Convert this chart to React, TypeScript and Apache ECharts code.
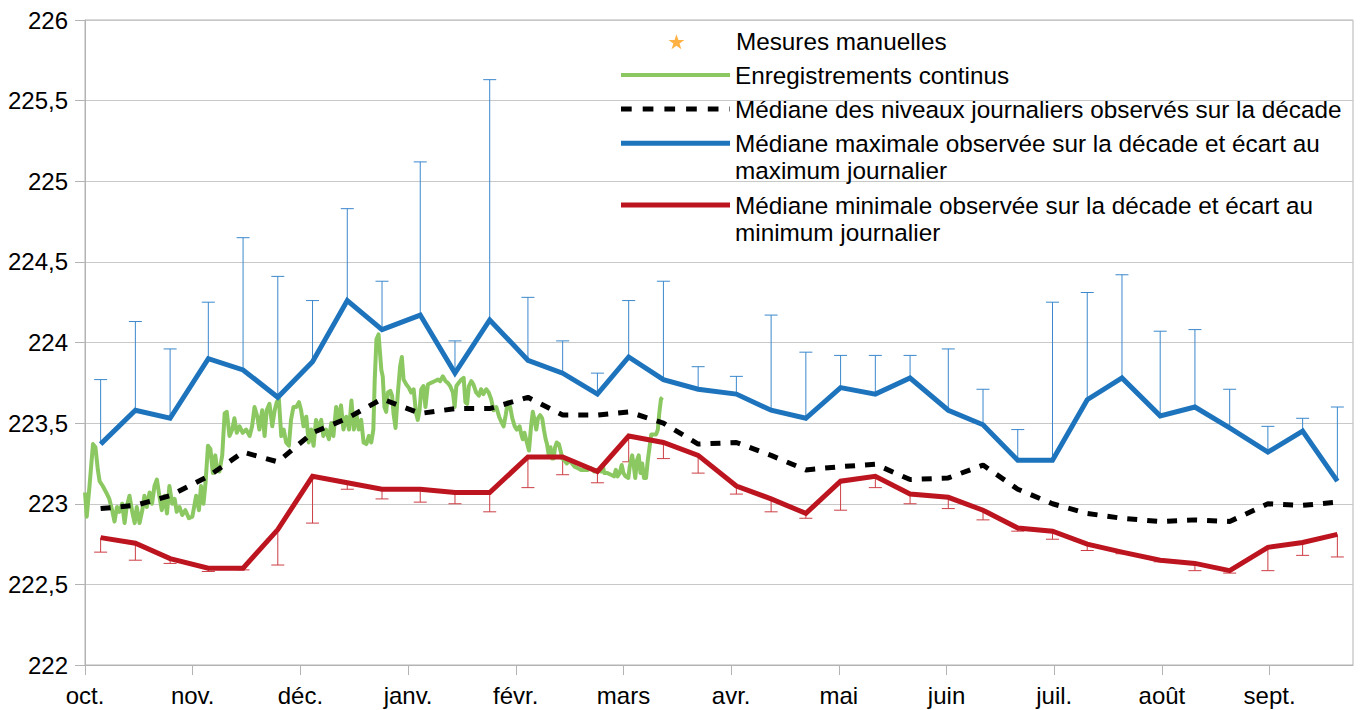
import React, { useEffect, useRef } from "react";
import * as echarts from "echarts";

// ---- axis / calendar (Oct 2023 – Sep 2024, leap February) ----
const monthLabels = ["oct.", "nov.", "déc.", "janv.", "févr.", "mars", "avr.", "mai", "juin", "juil.", "août", "sept."];
const monthTickDays = [0, 31, 62, 93, 124, 155, 186, 217, 248, 279, 310, 341];
const monthLengths = [31, 30, 31, 31, 29, 31, 30, 31, 30, 31, 31, 30];
const decadeOffsets = [4.5, 14.5, 24.5];
const yTicks = { min: 222, max: 226, step: 0.5 };

// ---- series values, one per decade (36) ----
const medianDaily = [
  222.97, 222.99, 223.05, 223.17, 223.32, 223.26, 223.44, 223.53, 223.65,
  223.56, 223.59, 223.59, 223.66, 223.55, 223.55, 223.57, 223.50, 223.37,
  223.38, 223.30, 223.21, 223.23, 223.245, 223.15, 223.16, 223.24, 223.09,
  223.00, 222.94, 222.91, 222.89, 222.90, 222.89, 223.00, 222.99, 223.01,
];
const maxMedian = [
  223.37, 223.58, 223.53, 223.90, 223.83, 223.66, 223.88, 224.26, 224.08,
  224.17, 223.81, 224.14, 223.89, 223.81, 223.68, 223.91, 223.77, 223.71,
  223.68, 223.58, 223.53, 223.72, 223.68, 223.78, 223.58, 223.49, 223.27,
  223.27, 223.645, 223.78, 223.545, 223.60, 223.47, 223.32, 223.45, 223.14,
];
const maxDaily = [
  223.77, 224.13, 223.96, 224.25, 224.65, 224.41, 224.26, 224.83, 224.38,
  225.12, 224.01, 225.63, 224.28, 224.01, 223.81, 224.26, 224.38, 223.85,
  223.79, 224.17, 223.94, 223.92, 223.92, 223.92, 223.96, 223.71, 223.46,
  224.25, 224.31, 224.42, 224.07, 224.08, 223.71, 223.48, 223.53, 223.60,
];
const minMedian = [
  222.79, 222.755, 222.66, 222.60, 222.60, 222.84, 223.17, 223.13, 223.09,
  223.09, 223.07, 223.07, 223.29, 223.29, 223.20, 223.42, 223.38, 223.30,
  223.11, 223.03, 222.94, 223.14, 223.17, 223.06, 223.04, 222.96, 222.85,
  222.83, 222.75, 222.70, 222.65, 222.63, 222.585, 222.73, 222.76, 222.81,
];
const minDaily = [
  222.70, 222.65, 222.63, 222.58, 222.59, 222.62, 222.88, 223.09, 223.03,
  223.01, 223.00, 222.95, 223.10, 223.18, 223.13, 223.26, 223.28, 223.19,
  223.06, 222.95, 222.91, 222.96, 223.10, 223.00, 222.97, 222.90, 222.83,
  222.78, 222.71, 222.69, 222.64, 222.585, 222.57, 222.585, 222.68, 222.67,
];

// ---- continuous record (day since 1 Oct, level) ----
const greenDays = [
  0, 0.5, 1.3, 2.3, 3.0, 3.7, 4.2, 5.1, 6.1, 7.0, 7.8, 8.5, 9.2, 9.9, 10.7, 11.4, 12.0, 12.8, 13.6, 14.3,
  14.9, 15.7, 16.5, 17.1, 17.8, 18.6, 19.3, 20.0, 20.7, 21.4, 22.1, 22.9, 23.6, 24.3, 25.1, 25.8, 26.4, 27.2, 28.0, 28.9,
  29.9, 30.9, 32.0, 32.8, 33.4, 34.1, 34.7, 35.4, 36.1, 36.8, 37.5, 38.0, 38.7, 39.5, 40.2, 40.8, 41.6, 42.4, 43.0, 43.7,
  44.5, 45.4, 46.4, 47.4, 48.1, 48.8, 49.6, 50.2, 51.0, 51.7, 52.3, 53.1, 53.9, 54.6, 55.2, 55.8, 56.5, 57.2, 57.9, 58.7,
  59.3, 60.0, 60.8, 61.6, 62.2, 62.9, 63.7, 64.4, 65.1, 65.8, 66.5, 67.3, 68.0, 68.6, 69.4, 70.2, 70.9, 71.5, 72.3, 73.1,
  73.7, 74.4, 75.2, 76.0, 76.7, 77.4, 78.1, 78.8, 79.5, 80.2, 81.0, 81.7, 82.4, 83.0, 83.4, 83.9, 84.5, 85.3, 85.7, 86.2,
  86.7, 87.2, 87.9, 88.4, 88.8, 89.4, 90.0, 90.7, 91.2, 91.7, 92.5, 93.2, 93.9, 94.6, 95.3, 95.8, 96.3, 96.8, 97.4, 98.0,
  98.7, 99.6, 100.6, 101.6, 102.2, 103.0, 103.8, 104.4, 105.1, 105.9, 106.4, 106.9, 107.6, 108.3, 109.0, 109.5, 110.0, 110.5, 111.2, 111.8,
  112.6, 113.4, 114.0, 114.7, 115.5, 116.2, 116.9, 117.6, 118.4, 119.2, 119.8, 120.5, 121.1, 121.7, 122.4, 123.0, 123.7, 124.3, 125.1, 125.6,
  126.0, 126.5, 127.2, 127.8, 128.4, 128.9, 129.4, 129.9, 130.4, 131.0, 131.6, 132.1, 132.6, 133.0, 133.5, 134.0, 134.5, 134.9, 135.3, 135.8,
  136.4, 137.0, 137.4, 138.0, 138.7, 139.5, 140.2, 140.9, 141.9, 142.8, 143.8, 144.7, 145.7, 146.6, 147.6, 148.5, 149.0, 149.5, 150.4, 151.4,
  152.3, 152.8, 153.3, 153.9, 154.5, 155.0, 155.6, 156.4, 156.8, 157.5, 158.0, 158.4, 158.9, 159.4, 159.9, 160.4, 160.9, 161.5, 162.0, 162.5,
  163.0, 163.7, 164.4, 164.9, 165.3, 165.8, 166.2,
];
const greenLevels = [
  223.07, 222.92, 223.11, 223.37, 223.35, 223.21, 223.14, 223.11, 223.07, 223.03, 222.96, 222.89, 222.98, 222.95, 223.00, 222.88, 222.98, 223.05, 222.95, 222.88,
  222.98, 222.88, 222.96, 223.05, 222.98, 223.07, 223.00, 223.11, 223.15, 223.05, 222.96, 223.05, 222.94, 223.11, 223.00, 223.03, 222.95, 222.98, 222.93, 222.96,
  222.91, 222.92, 223.05, 222.96, 223.11, 223.00, 223.13, 223.36, 223.34, 223.19, 223.30, 223.22, 223.20, 223.30, 223.56, 223.57, 223.42, 223.46, 223.53, 223.44,
  223.48, 223.44, 223.46, 223.42, 223.48, 223.60, 223.54, 223.46, 223.58, 223.42, 223.58, 223.62, 223.48, 223.58, 223.63, 223.65, 223.42, 223.46, 223.38, 223.36,
  223.52, 223.60, 223.60, 223.63, 223.58, 223.48, 223.54, 223.38, 223.46, 223.36, 223.52, 223.46, 223.52, 223.42, 223.46, 223.40, 223.50, 223.42, 223.60, 223.52,
  223.61, 223.46, 223.54, 223.46, 223.64, 223.46, 223.56, 223.46, 223.52, 223.38, 223.37, 223.42, 223.38, 223.46, 223.77, 224.02, 224.05, 223.83, 223.79, 223.60,
  223.57, 223.69, 223.70, 223.67, 223.56, 223.47, 223.67, 223.85, 223.91, 223.77, 223.74, 223.72, 223.69, 223.71, 223.56, 223.52, 223.58, 223.71, 223.73, 223.60,
  223.74, 223.75, 223.76, 223.77, 223.76, 223.79, 223.76, 223.75, 223.73, 223.69, 223.60, 223.73, 223.75, 223.77, 223.78, 223.63, 223.62, 223.73, 223.76, 223.74,
  223.69, 223.67, 223.71, 223.68, 223.71, 223.69, 223.65, 223.58, 223.60, 223.54, 223.51, 223.48, 223.55, 223.63, 223.60, 223.53, 223.48, 223.46, 223.48, 223.43,
  223.40, 223.44, 223.38, 223.33, 223.48, 223.57, 223.52, 223.46, 223.53, 223.55, 223.53, 223.46, 223.40, 223.37, 223.30, 223.35, 223.28, 223.28, 223.35, 223.38,
  223.37, 223.32, 223.28, 223.27, 223.25, 223.27, 223.25, 223.23, 223.22, 223.21, 223.21, 223.21, 223.22, 223.20, 223.21, 223.20, 223.24, 223.19, 223.19, 223.18,
  223.17, 223.21, 223.17, 223.19, 223.24, 223.19, 223.17, 223.16, 223.23, 223.30, 223.23, 223.16, 223.27, 223.30, 223.19, 223.25, 223.16, 223.16, 223.27, 223.35,
  223.43, 223.43, 223.43, 223.46, 223.56, 223.65, 223.66,
];

const NAME_MANUAL = "Mesures manuelles";
const NAME_CONT = "Enregistrements continus";
const NAME_MED = "Médiane des niveaux journaliers observés sur la décade";
const NAME_MAX = "Médiane maximale observée sur la décade et écart au maximum journalier";
const NAME_MIN = "Médiane minimale observée sur la décade et écart au minimum journalier";
const LABEL_MAX = "Médiane maximale observée sur la décade et écart au\nmaximum journalier";
const LABEL_MIN = "Médiane minimale observée sur la décade et écart au\nminimum journalier";

const C_GREEN = "#8bc862";
const C_BLACK = "#000000";
const C_BLUE = "#1e74bc";
const C_RED = "#bd1520";
const C_STAR = "#ff9f14";

const STAR = "path://M50,0 L61.8,35.1 L98.8,35.1 L68.9,57 L80.3,92.1 L50,70.4 L19.7,92.1 L31.1,57 L1.2,35.1 L38.2,35.1 Z";
const ICON_SOLID4 = "path://M0,0h109v4h-109Z";
const ICON_SOLID5 = "path://M0,0h109v5h-109Z";
const ICON_DASH5 =
  "path://M0,0h10.7v5h-10.7Z M21.7,0h10.7v5h-10.7Z M43.4,0h10.7v5h-10.7Z M65.1,0h10.7v5h-10.7Z M86.8,0h10.7v5h-10.7Z M108.5,0h0.5v5h-0.5Z";
const FONT = "Liberation Sans";

function decadeDays(): number[] {
  const out: number[] = [];
  let start = 0;
  for (const len of monthLengths) {
    for (const o of decadeOffsets) out.push(start + o);
    start += len;
  }
  return out;
}

function errorBarSeries(name: string, base: number[], ext: number[], color: string) {
  const days = decadeDays();
  return {
    type: "custom",
    name,
    silent: true,
    encode: { x: 0, y: [1, 2] },
    data: days.map((d, i) => [d, base[i], ext[i]]),
    renderItem: (params: any, api: any) => {
      const p1 = api.coord([api.value(0), api.value(1)]);
      const p2 = api.coord([api.value(0), api.value(2)]);
      const style = { stroke: color, lineWidth: 1 };
      return {
        type: "group",
        children: [
          { type: "line", shape: { x1: p1[0], y1: p1[1], x2: p2[0], y2: p2[1] }, style },
          { type: "line", shape: { x1: p2[0] - 6.5, y1: p2[1], x2: p2[0] + 6.5, y2: p2[1] }, style },
        ],
      };
    },
  };
}

export default function App() {
  const ref = useRef<HTMLDivElement>(null);

  useEffect(() => {
    if (!ref.current) return;
    const chart = echarts.init(ref.current, null, { renderer: "svg" });
    const days = decadeDays();
    const textStyle = { fontFamily: FONT, fontSize: 24.3, color: "#000", lineHeight: 27 };
    const legendBase = {
      orient: "horizontal",
      left: 621,
      itemWidth: 109,
      padding: 0,
      selectedMode: false,
      textStyle,
    };

    chart.setOption({
      animation: false,
      backgroundColor: "#fff",
      grid: { left: 85, right: 12, top: 20, bottom: 45, show: true, borderColor: "#b3b3b3", borderWidth: 1, outerBoundsMode: "none" },
      xAxis: {
        type: "value",
        min: 0,
        max: 365,
        axisLine: { show: true, lineStyle: { color: "#b3b3b3", width: 1 } },
        axisTick: { show: true, length: 10, customValues: monthTickDays, lineStyle: { color: "#b3b3b3" } },
        axisLabel: {
          customValues: monthTickDays,
          margin: 18,
          fontFamily: FONT,
          fontSize: 24,
          color: "#000",
          formatter: (v: number) => {
            const i = monthTickDays.indexOf(Math.round(v));
            return i >= 0 ? monthLabels[i] : "";
          },
        },
        splitLine: { show: false },
      },
      yAxis: {
        type: "value",
        min: yTicks.min,
        max: yTicks.max,
        interval: yTicks.step,
        axisLine: { show: true, lineStyle: { color: "#b3b3b3", width: 1 } },
        axisTick: { show: true, length: 10, lineStyle: { color: "#b3b3b3" } },
        axisLabel: {
          margin: 17,
          fontFamily: FONT,
          fontSize: 24,
          color: "#000",
          formatter: (v: number) => String(v).replace(".", ","),
        },
        splitLine: { show: true, lineStyle: { color: "#c8c8c8", width: 1 } },
      },
      legend: [
        {
          ...legendBase,
          left: 668.5,
          top: 28.2,
          itemHeight: 15,
          itemStyle: { color: C_STAR, borderWidth: 0 },
          data: [{ name: NAME_MANUAL, icon: STAR }],
        },
        {
          ...legendBase,
          top: 61.5,
          itemHeight: 4,
          itemStyle: { color: C_GREEN, borderWidth: 0 },
          data: [{ name: NAME_CONT, icon: ICON_SOLID4 }],
        },
        {
          ...legendBase,
          top: 95.5,
          itemHeight: 5,
          itemStyle: { color: C_BLACK, borderWidth: 0 },
          data: [{ name: NAME_MED, icon: ICON_DASH5 }],
        },
        {
          ...legendBase,
          top: 102.8,
          itemHeight: 5,
          itemStyle: { color: C_BLUE, borderWidth: 0 },
          data: [{ name: NAME_MAX, icon: ICON_SOLID5 }],
          formatter: () => "\n" + LABEL_MAX,
        },
        {
          ...legendBase,
          top: 164.5,
          itemHeight: 5,
          itemStyle: { color: C_RED, borderWidth: 0 },
          data: [{ name: NAME_MIN, icon: ICON_SOLID5 }],
          formatter: () => "\n" + LABEL_MIN,
        },
      ],
      series: [
        {
          type: "scatter",
          name: NAME_MANUAL,
          symbol: STAR,
          symbolSize: 14,
          itemStyle: { color: C_STAR },
          data: [],
        },
        {
          type: "line",
          name: NAME_CONT,
          showSymbol: false,
          symbol: "none",
          lineStyle: { color: C_GREEN, width: 4, join: "round" },
          itemStyle: { color: C_GREEN },
          data: greenDays.map((d, i) => [d, greenLevels[i]]),
        },
        {
          type: "line",
          name: NAME_MED,
          showSymbol: false,
          symbol: "none",
          lineStyle: { color: C_BLACK, width: 5, type: [10, 10] },
          itemStyle: { color: C_BLACK },
          data: days.map((d, i) => [d, medianDaily[i]]),
        },
        errorBarSeries("errMax", maxMedian, maxDaily, "#3b88cc"),
        {
          type: "line",
          name: NAME_MAX,
          showSymbol: false,
          symbol: "none",
          lineStyle: { color: C_BLUE, width: 5, join: "miter" },
          itemStyle: { color: C_BLUE },
          data: days.map((d, i) => [d, maxMedian[i]]),
        },
        errorBarSeries("errMin", minMedian, minDaily, "#cc3e45"),
        {
          type: "line",
          name: NAME_MIN,
          showSymbol: false,
          symbol: "none",
          lineStyle: { color: C_RED, width: 5, join: "miter" },
          itemStyle: { color: C_RED },
          data: days.map((d, i) => [d, minMedian[i]]),
        },
      ],
    });

    return () => chart.dispose();
  }, []);

  return (
    <div
      ref={ref}
      style={{ position: "fixed", left: 0, top: 0, width: 1365, height: 710, background: "#fff" }}
    />
  );
}
